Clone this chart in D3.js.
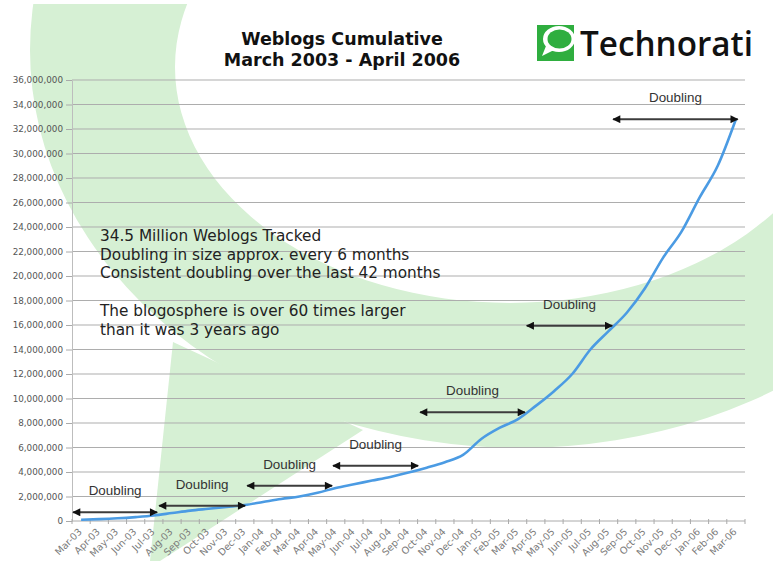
<!DOCTYPE html>
<html>
<head>
<meta charset="utf-8">
<script src="https://cdn.jsdelivr.net/npm/d3@7"></script>
<style>
    body { margin: 0; background: #fff; }
</style>
</head>
<body>
<div class="line-chart-container"></div>
<script>

// Chart data
const months = [
    "Mar-03", "Apr-03", "May-03", "Jun-03", "Jul-03", "Aug-03", "Sep-03", "Oct-03", "Nov-03", "Dec-03",
    "Jan-04", "Feb-04", "Mar-04", "Apr-04", "May-04", "Jun-04", "Jul-04", "Aug-04", "Sep-04", "Oct-04",
    "Nov-04", "Dec-04", "Jan-05", "Feb-05", "Mar-05", "Apr-05", "May-05", "Jun-05", "Jul-05", "Aug-05",
    "Sep-05", "Oct-05", "Nov-05", "Dec-05", "Jan-06", "Feb-06", "Mar-06"
];
const weblogs = [
    100000, 150000, 220000, 320000, 450000, 650000, 850000, 1000000, 1150000, 1300000,
    1550000, 1800000, 2000000, 2300000, 2700000, 3000000, 3300000, 3600000, 3950000, 4350000,
    4800000, 5400000, 6700000, 7600000, 8300000, 9400000, 10600000, 12000000, 14000000, 15500000,
    17000000, 19000000, 21500000, 23600000, 26400000, 29000000, 32800000
];
const yTickValues = [
    0, 2000000, 4000000, 6000000, 8000000, 10000000, 12000000, 14000000, 16000000, 18000000,
    20000000, 22000000, 24000000, 26000000, 28000000, 30000000, 32000000, 34000000, 36000000
];
const titleLines = ["Weblogs Cumulative", "March 2003 - April 2006"];
const noteLines = [
    "34.5 Million Weblogs Tracked",
    "Doubling in size approx. every 6 months",
    "Consistent doubling over the last 42 months",
    "",
    "The blogosphere is over 60 times larger",
    "than it was 3 years ago"
];
// doubling arrows: start / end in month index, height in weblogs
const doublingFrom = [-0.44, 4.29, 9.13, 13.85, 18.64, 24.5, 29.25];
const doublingTo = [4.18, 9.02, 13.8, 18.53, 24.4, 29.2, 36.1];
const doublingLevel = [710000, 1250000, 2880000, 4510000, 8870000, 15940000, 32800000];

const width = 773;
const height = 561;
const plotLeft = 72, plotRight = 745, plotTop = 80, plotBottom = 521;

let svg = d3.select(".line-chart-container").append("svg")
    .attr("width", width)
    .attr("height", height)
    .style("display", "block");

// Background swoosh
const ellipse = (cx, cy, rx, ry) =>
    `M${cx - rx},${cy} a${rx},${ry} 0 1,0 ${2 * rx},0 a${rx},${ry} 0 1,0 ${-2 * rx},0 Z`;

svg.append("clipPath").attr("id", "bgclip")
    .append("rect").attr("x", 0).attr("y", 4).attr("width", width).attr("height", height - 4);

let bg = svg.append("g").attr("clip-path", "url(#bgclip)");
bg.append("path")
    .attr("d", ellipse(520, 50, 490, 398) + ellipse(510, 67, 335, 236))
    .attr("fill-rule", "evenodd")
    .attr("fill", "#d6f0d4");
bg.append("polygon")
    .attr("points", "173,342 363,430 160,561 150,561")
    .attr("fill", "#d6f0d4");

// Scales
let xScale = d3.scaleBand()
    .domain(months)
    .range([plotLeft, plotRight]);
let xCenter = m => xScale(m) + xScale.bandwidth() / 2;
let idxScale = d3.scaleLinear()
    .domain([0, months.length - 1])
    .range([xCenter(months[0]), xCenter(months[months.length - 1])]);
let yScale = d3.scaleLinear()
    .domain([0, 36000000])
    .range([plotBottom, plotTop]);

// Gridlines
svg.append("g")
    .selectAll("line")
    .data(yTickValues.filter(v => v > 0))
    .enter()
    .append("line")
    .attr("x1", plotLeft)
    .attr("x2", plotRight)
    .attr("y1", d => yScale(d))
    .attr("y2", d => yScale(d))
    .attr("stroke", "#adadad")
    .attr("stroke-width", 1);

// Y axis
let yAxis = d3.axisLeft(yScale)
    .tickValues(yTickValues)
    .tickFormat(d3.format(","))
    .tickSize(6)
    .tickSizeOuter(0)
    .tickPadding(3);
let yg = svg.append("g")
    .attr("transform", "translate(" + plotLeft + ",0)")
    .call(yAxis);
yg.select(".domain").attr("stroke", "#bdbdbd");
yg.selectAll(".tick line").attr("stroke", "#aaa");
yg.selectAll(".tick text")
    .attr("fill", "#555")
    .style("font-family", "DejaVu Sans")
    .style("font-size", "8.8px");

// X axis line, ticks at month boundaries, rotated labels
svg.append("line")
    .attr("x1", plotLeft).attr("x2", plotRight)
    .attr("y1", plotBottom).attr("y2", plotBottom)
    .attr("stroke", "#aaa");
svg.append("g")
    .selectAll("line")
    .data(d3.range(months.length + 1))
    .enter()
    .append("line")
    .attr("x1", i => plotLeft + i * xScale.bandwidth())
    .attr("x2", i => plotLeft + i * xScale.bandwidth())
    .attr("y1", plotBottom - 2)
    .attr("y2", plotBottom + 3)
    .attr("stroke", "#aaa");
svg.append("g")
    .selectAll("text")
    .data(months)
    .enter()
    .append("text")
    .attr("transform", m => "translate(" + (xCenter(m) - 1) + "," + (plotBottom + 9) + ") rotate(-45)")
    .attr("text-anchor", "end")
    .attr("dy", "0.35em")
    .attr("fill", "#7a7a7a")
    .style("font-family", "DejaVu Sans")
    .style("font-size", "9.6px")
    .text(m => m);

// The weblog curve
let line = d3.line()
    .x((d, i) => xCenter(months[i]))
    .y(d => yScale(d))
    .curve(d3.curveMonotoneX);
svg.append("path")
    .datum(weblogs)
    .attr("d", line)
    .attr("fill", "none")
    .attr("stroke", "#4b9be3")
    .attr("stroke-width", 2.6)
    .attr("stroke-linejoin", "round");

// Doubling arrows
svg.append("defs").append("marker")
    .attr("id", "head")
    .attr("viewBox", "0 0 10 10")
    .attr("refX", 9)
    .attr("refY", 5)
    .attr("markerWidth", 9)
    .attr("markerHeight", 8)
    .attr("markerUnits", "userSpaceOnUse")
    .attr("orient", "auto-start-reverse")
    .append("path")
    .attr("d", "M0,0 L10,5 L0,10 Z")
    .attr("fill", "#111");

let arrows = svg.append("g")
    .selectAll("g")
    .data(doublingLevel)
    .enter()
    .append("g");
arrows.append("line")
    .attr("x1", (d, i) => idxScale(doublingFrom[i]))
    .attr("x2", (d, i) => idxScale(doublingTo[i]))
    .attr("y1", d => yScale(d))
    .attr("y2", d => yScale(d))
    .attr("stroke", "#3c3c3c")
    .attr("stroke-width", 2)
    .attr("marker-start", "url(#head)")
    .attr("marker-end", "url(#head)");
arrows.append("text")
    .attr("x", (d, i) => (idxScale(doublingFrom[i]) + idxScale(doublingTo[i])) / 2)
    .attr("y", d => yScale(d) - 17)
    .attr("text-anchor", "middle")
    .attr("fill", "#333")
    .style("font-family", "Liberation Sans")
    .style("font-size", "13.4px")
    .text("Doubling");

// Title
svg.append("g")
    .selectAll("text")
    .data(titleLines)
    .enter()
    .append("text")
    .attr("x", 342)
    .attr("y", (d, i) => 45 + i * 21)
    .attr("text-anchor", "middle")
    .attr("fill", "#111")
    .style("font-family", "DejaVu Sans")
    .style("font-weight", "bold")
    .style("font-size", "17.5px")
    .text(d => d);

// Notes
svg.append("g")
    .selectAll("text")
    .data(noteLines)
    .enter()
    .append("text")
    .attr("x", 100)
    .attr("y", (d, i) => 241 + i * 18.7)
    .attr("fill", "#222")
    .style("font-family", "DejaVu Sans")
    .style("font-size", "15.3px")
    .text(d => d);

// Technorati logo
let logo = svg.append("g");
logo.append("rect")
    .attr("x", 537).attr("y", 25)
    .attr("width", 37).attr("height", 36)
    .attr("fill", "#2fae3f");
logo.append("path")
    .attr("d", ellipse(559, 39, 16, 13) + " M546,46 L542,56 L554,50 Z")
    .attr("fill", "#fff");
logo.append("path")
    .attr("d", ellipse(559.5, 39, 12, 9.5))
    .attr("fill", "#2fae3f");
logo.append("text")
    .attr("x", 580)
    .attr("y", 56)
    .attr("fill", "#111")
    .attr("textLength", 173)
    .attr("lengthAdjust", "spacingAndGlyphs")
    .style("font-family", "Open Sans")
    .style("font-weight", "600")
    .style("font-size", "35px")
    .text("Technorati");

</script>
</body>
</html>
